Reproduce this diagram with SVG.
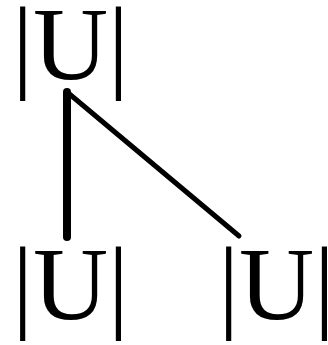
<svg xmlns="http://www.w3.org/2000/svg" width="328" height="345" viewBox="0 0 328 345">
<style>
.lbl{font-family:"Liberation Serif","Times New Roman",serif;font-size:104px;fill:#000;text-anchor:middle}
.edge{stroke:#000;stroke-linecap:round;fill:none}
</style>
<rect width="328" height="345" fill="#fff"/>
<g id="connectors">
<line class="edge" x1="67" y1="92" x2="67" y2="237" stroke-width="8"/>
<line class="edge" x1="67" y1="92" x2="239" y2="236" stroke-width="5"/>
</g>
<g id="node-root"><text class="lbl" x="70.5" y="79">|U|</text></g>
<g id="node-left"><text class="lbl" x="70.5" y="319">|U|</text></g>
<g id="node-right"><text class="lbl" x="276.5" y="319">|U|</text></g>
</svg>
